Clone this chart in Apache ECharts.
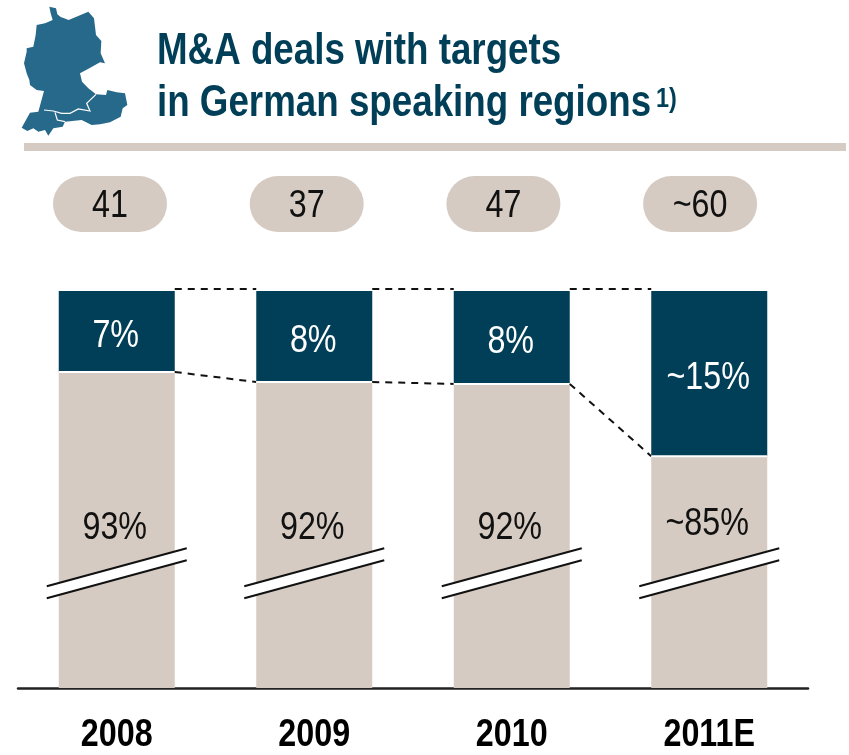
<!DOCTYPE html>
<html>
<head>
<meta charset="utf-8">
<style>html,body{margin:0;padding:0;background:#fff}#c{width:849px;height:755px}</style>
<script src="https://cdn.jsdelivr.net/npm/echarts@6/dist/echarts.min.js"></script>
</head>
<body>
<div id="c"></div>
<script>
const categories = ['2008', '2009', '2010', '2011E'];
const dealCounts = ['41', '37', '47', '~60'];
const upperShare = [7.06, 7.93, 8.1, 14.4];
const lowerShare = [92.94, 92.07, 91.9, 85.6];
const upperLabels = ['7%', '8%', '8%', '~15%'];
const lowerLabels = ['93%', '92%', '92%', '~85%'];
const lowerLabelPos = [79.6, 79.6, 79.6, 79.9];
const axisBreakStart = 10;
const axisBreakEnd = 75.4;

const DARK = '#003f57', TAN = '#d5cbc2', MAP = '#26698a';
const FONT = '"Liberation Sans",Arial,sans-serif';
const BAR_W = 116, NARROW = 0.85;

const mapOutline = [[88,5],[108,10],[112,28],[122,36],[146,45],[205,20],[222,40],[228,90],[244,108],[242,145],[255,175],[240,172],[208,190],[180,205],[186,230],[205,250],[228,268],[258,270],[262,255],[290,262],[315,265],[322,300],[308,310],[302,335],[270,352],[240,358],[215,360],[185,345],[135,350],[128,365],[100,370],[85,392],[75,375],[55,380],[40,370],[22,378],[5,368],[30,323],[55,320],[72,258],[50,255],[30,240],[28,225],[20,205],[12,175],[20,140],[20,130],[40,125],[47,90],[50,60],[75,55],[98,45],[92,25]];
const mapBorderA = [[72,315],[100,318],[125,325],[150,325],[175,312],[210,318],[200,295],[228,268]];
const mapBorderB = [[105,322],[112,345],[135,350]];
const toPx = p => [20 + p[0] / 3, 5 + p[1] / 3];

const narrowText = (x, y, text, fill, weight) => ({
  type: 'text', x: x, y: y, scaleX: NARROW,
  style: {text: text, fill: fill, font: weight + ' 38px ' + FONT, textAlign: 'center', textVerticalAlign: 'middle'}
});

const chart = echarts.init(document.getElementById('c'), null, {renderer: 'canvas'});
chart.setOption({
  animation: false,
  backgroundColor: '#fff',
  graphic: [
    {type: 'polygon', shape: {points: mapOutline.map(toPx)}, style: {fill: MAP}},
    {type: 'polyline', shape: {points: mapBorderA.map(toPx)}, style: {stroke: '#fff', lineWidth: 1.2, fill: null}},
    {type: 'polyline', shape: {points: mapBorderB.map(toPx)}, style: {stroke: '#fff', lineWidth: 1.2, fill: null}},
    {type: 'text', x: 157, y: 52, scaleX: 0.835, style: {text: 'M&A deals with targets', fill: DARK, font: 'bold 44px ' + FONT, textVerticalAlign: 'middle'}},
    {type: 'text', x: 157, y: 104, scaleX: 0.835, style: {text: 'in German speaking regions', fill: DARK, font: 'bold 44px ' + FONT, textVerticalAlign: 'middle'}},
    {type: 'text', x: 656, y: 100, scaleX: 0.87, style: {text: '1)', fill: DARK, font: 'bold 27px ' + FONT, textVerticalAlign: 'middle'}},
    {type: 'rect', shape: {x: 24, y: 143, width: 822, height: 8}, style: {fill: TAN}}
  ],
  grid: [
    {left: 18, right: 41, top: 291, bottom: 67},
    {left: 18.65, right: 43.55, top: 176, height: 56}
  ],
  xAxis: [
    {type: 'category', gridIndex: 0, data: categories,
     axisTick: {show: false},
     axisLine: {lineStyle: {color: '#222', width: 2.5}},
     axisLabel: {show: false}},
    {type: 'category', gridIndex: 1, data: categories, show: false}
  ],
  yAxis: [
    {type: 'value', gridIndex: 0, min: 0, max: 100, show: false, splitLine: {show: false},
     breaks: [{start: axisBreakStart, end: axisBreakEnd, gap: 0}],
     breakArea: {show: false}},
    {type: 'value', gridIndex: 1, min: 0, max: 1, show: false, splitLine: {show: false}}
  ],
  series: [
    {type: 'bar', stack: 's', barWidth: BAR_W, data: lowerShare, itemStyle: {color: TAN}, silent: true},
    {type: 'bar', stack: 's', barWidth: BAR_W, data: upperShare, itemStyle: {color: DARK}, silent: true},
    // separators and dashed connectors
    {type: 'custom', silent: true, z: 5, clip: false,
     data: lowerShare.map((v, i) => [i, v]),
     renderItem: (params, api) => {
       const i = api.value(0), v = api.value(1);
       const top = api.coord([i, 100]), split = api.coord([i, v]);
       const kids = [{type: 'line', shape: {x1: split[0] - BAR_W / 2, y1: split[1], x2: split[0] + BAR_W / 2, y2: split[1]},
                      style: {stroke: '#fff', lineWidth: 2}}];
       if (i < lowerShare.length - 1) {
         const nTop = api.coord([i + 1, 100]), nSplit = api.coord([i + 1, lowerShare[i + 1]]);
         const dash = {stroke: '#111', lineWidth: 2, lineDash: [7, 6]};
         kids.push({type: 'line', shape: {x1: top[0] + BAR_W / 2, y1: top[1] - 2, x2: nTop[0] - BAR_W / 2, y2: nTop[1] - 2}, style: dash});
         kids.push({type: 'line', shape: {x1: split[0] + BAR_W / 2, y1: split[1], x2: nSplit[0] - BAR_W / 2, y2: nSplit[1]}, style: dash});
       }
       return {type: 'group', children: kids};
     }},
    // share labels and category labels
    {type: 'custom', silent: true, z: 8, clip: false,
     data: categories.map((c, i) => [i, lowerLabelPos[i], lowerShare[i]]),
     renderItem: (params, api) => {
       const i = api.value(0);
       const low = api.coord([i, api.value(1)]);
       const split = api.coord([i, api.value(2)]);
       const top = api.coord([i, 100]);
       const base = api.coord([i, 0]);
       return {type: 'group', children: [
         narrowText(low[0] - 2, low[1] + 3, lowerLabels[i], '#111', 'normal'),
         narrowText(top[0] - 1, (top[1] + split[1]) / 2 + 5, upperLabels[i], '#fff', 'normal'),
         narrowText(base[0], base[1] + 48, categories[i], '#000', 'bold')
       ]};
     }},
    // axis-break marks
    {type: 'custom', silent: true, z: 7, clip: false,
     data: categories.map((c, i) => [i, axisBreakStart]),
     renderItem: (params, api) => {
       const p = api.coord([api.value(0), api.value(1)]);
       const x = p[0], y = p[1], dx = 70, dy = 19, t = 6;
       const line = o => ({type: 'line', shape: {x1: x - dx, y1: y + dy + o, x2: x + dx, y2: y - dy + o},
                           style: {stroke: '#111', lineWidth: 2}});
       return {type: 'group', children: [
         {type: 'polygon', shape: {points: [[x - dx, y + dy - t], [x + dx, y - dy - t], [x + dx, y - dy + t], [x - dx, y + dy + t]]},
          style: {fill: '#fff'}},
         line(-t), line(t)
       ]};
     }},
    // total-deal pills
    {type: 'custom', xAxisIndex: 1, yAxisIndex: 1, silent: true, clip: false,
     data: categories.map((c, i) => [i, 0.5]),
     renderItem: (params, api) => {
       const i = api.value(0);
       const p = api.coord([i, api.value(1)]);
       const w = 114, h = api.size([0, 1])[1], x = p[0] - 7;
       return {type: 'group', children: [
         {type: 'rect', shape: {x: x - w / 2, y: p[1] - h / 2, width: w, height: h, r: h / 2}, style: {fill: TAN}},
         narrowText(x, p[1] + 3, dealCounts[i], '#111', 'normal')
       ]};
     }}
  ]
});
</script>
</body>
</html>
